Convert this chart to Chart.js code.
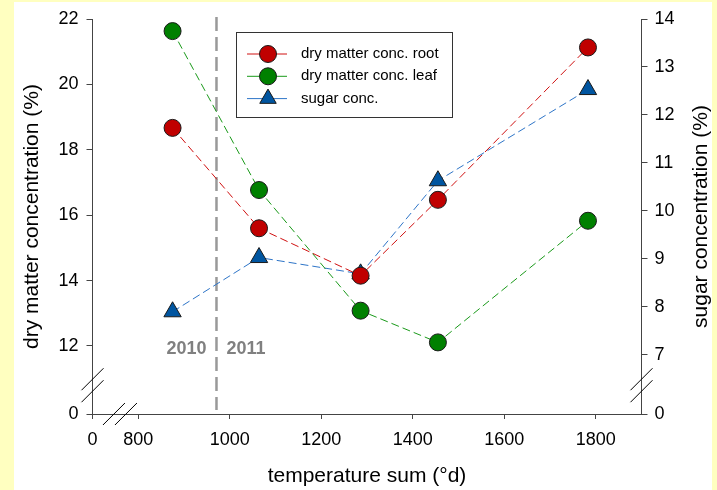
<!DOCTYPE html>
<html>
<head>
<meta charset="utf-8">
<script src="https://cdn.jsdelivr.net/npm/chart.js@4"></script>
<style>
  body { margin: 0; background: #ffffc0; }
</style>
</head>
<body>
<canvas id="chart" width="717" height="490"></canvas>
<script>
const tempSum = [875, 1064, 1286, 1455, 1783];
const rootDM = [18.67, 15.6, 14.15, 16.47, 21.13];
const leafDM = [21.63, 16.77, 13.08, 12.11, 15.83];
const sugar = [7.9, 9.03, 8.69, 10.63, 12.53];

const xTicks = [700, 800, 1000, 1200, 1400, 1600, 1800];
const leftTicks = [9.92, 12, 14, 16, 18, 20, 22];
const rightTicks = [5.77, 7, 8, 9, 10, 11, 12, 13, 14];
const yearSplit = 971;

const FONT = "'Liberation Sans', Arial, sans-serif";
const axisColor = "#444";

function pts(ys) {
  return tempSum.map((x, i) => ({ x: x, y: ys[i] }));
}

function series(label, ys, line, fill, style, axis) {
  return {
    label: label,
    data: pts(ys),
    yAxisID: axis,
    showLine: true,
    borderColor: line,
    borderWidth: 1,
    borderDash: [8, 4],
    pointStyle: style,
    pointRadius: style === "triangle" ? 10 : 8.5,
    pointHoverRadius: style === "triangle" ? 10 : 8.5,
    pointBackgroundColor: fill,
    pointBorderColor: "#1a1a1a",
    pointBorderWidth: 1,
    clip: false,
  };
}

// background, year divider, legend box, axis breaks, right title
const decor = {
  id: "decor",
  beforeDraw(chart) {
    const c = chart.ctx;
    c.save();
    c.fillStyle = "#ffffc0";
    c.fillRect(0, 0, chart.width, chart.height);
    c.fillStyle = "#fff";
    c.fillRect(14, 2, 698, chart.height - 2);
    c.restore();
  },
  beforeDatasetsDraw(chart) {
    const c = chart.ctx;
    const x = chart.scales.x.getPixelForValue(yearSplit);
    const area = chart.chartArea;
    c.save();
    c.strokeStyle = "#999";
    c.lineWidth = 2.5;
    c.setLineDash([14, 6]);
    c.beginPath();
    c.moveTo(x, area.top - 2);
    c.lineTo(x, area.bottom - 4);
    c.stroke();
    c.setLineDash([]);
    c.fillStyle = "#808080";
    c.font = "bold 18px " + FONT;
    c.textBaseline = "middle";
    const ty = chart.scales.y.getPixelForValue(12);
    c.textAlign = "right";
    c.fillText("2010", x - 10, ty + 3);
    c.textAlign = "left";
    c.fillText("2011", x + 10, ty + 3);
    c.restore();
  },
  afterDraw(chart) {
    const c = chart.ctx;
    const area = chart.chartArea;
    c.save();

    // legend
    c.fillStyle = "#fff";
    c.fillRect(236, 32, 217, 86);
    c.strokeStyle = "#333";
    c.lineWidth = 1;
    c.strokeRect(236.5, 32.5, 216, 85);
    chart.data.datasets.forEach((ds, i) => {
      const y = 54 + i * 22.3;
      c.strokeStyle = ds.borderColor;
      c.lineWidth = 1;
      c.beginPath();
      c.moveTo(247, y);
      c.lineTo(287, y);
      c.stroke();
      c.fillStyle = ds.pointBackgroundColor;
      c.strokeStyle = ds.pointBorderColor;
      Chart.helpers.drawPoint(c, {
        pointStyle: ds.pointStyle,
        radius: ds.pointStyle === "triangle" ? 9.5 : 8.5,
        rotation: 0,
        borderWidth: 1,
      }, 268, y);
      c.fillStyle = "#000";
      c.font = "15px " + FONT;
      c.textAlign = "left";
      c.textBaseline = "middle";
      c.fillText(ds.label, 301, y);
    });

    // axis breaks
    c.strokeStyle = "#000";
    c.lineWidth = 1;
    const by = chart.scales.y.getPixelForValue(10.8);
    const bx = chart.scales.x.getPixelForValue(760);
    const slash = (x, y) => {
      c.beginPath();
      c.moveTo(x - 11, y + 11);
      c.lineTo(x + 11, y - 11);
      c.stroke();
    };
    [area.left, area.right].forEach((ax) => {
      slash(ax, by - 6);
      slash(ax, by + 6);
    });
    slash(bx - 6, area.bottom);
    slash(bx + 6, area.bottom);

    // right axis title, reading bottom to top
    c.fillStyle = "#000";
    c.font = "21px " + FONT;
    c.textAlign = "center";
    c.textBaseline = "middle";
    c.translate(701.5, (area.top + area.bottom) / 2);
    c.rotate(-Math.PI / 2);
    c.fillText("sugar concentration (%)", 0, 0);
    c.restore();
  },
};

function axisBase(ticks, min, max) {
  return {
    type: "linear",
    min: min,
    max: max,
    afterBuildTicks: (s) => {
      s.ticks = ticks.map((v) => ({ value: v }));
    },
    border: { display: true, color: axisColor, width: 1 },
    grid: {
      display: true,
      drawOnChartArea: false,
      drawTicks: true,
      tickLength: 6,
      tickColor: axisColor,
    },
  };
}

const xAxis = axisBase(xTicks, 700, 1900);
xAxis.grid.tickLength = 5;
xAxis.ticks = {
  color: "#000",
  font: { family: FONT, size: 18 },
  padding: 10,
  maxRotation: 0,
  autoSkip: false,
  callback: (v) => (v === 700 ? "0" : v),
};
xAxis.title = {
  display: true,
  text: "temperature sum (°d)",
  color: "#000",
  font: { family: FONT, size: 21 },
  padding: { top: 0, bottom: 1 },
};
xAxis.afterFit = (s) => { s.height = 76; };

const yAxis = axisBase(leftTicks, 9.92, 22);
yAxis.position = "left";
yAxis.ticks = {
  color: "#000",
  font: { family: FONT, size: 18 },
  padding: 8,
  autoSkip: false,
  callback: (v) => (v === 9.92 ? "0" : v),
};
yAxis.title = {
  display: true,
  text: "dry matter concentration (%)",
  color: "#000",
  font: { family: FONT, size: 21 },
  padding: { top: 20, bottom: 0 },
};
yAxis.afterFit = (s) => { s.width = 92.5; };

const y1Axis = axisBase(rightTicks, 5.77, 14);
y1Axis.position = "right";
y1Axis.ticks = {
  color: "#000",
  font: { family: FONT, size: 18 },
  padding: 7,
  autoSkip: false,
  callback: (v) => (v === 5.77 ? "0" : v),
};
y1Axis.afterFit = (s) => { s.width = 75.5; };

new Chart(document.getElementById("chart"), {
  type: "scatter",
  data: {
    datasets: [
      series("dry matter conc. root", rootDM, "#d01010", "#c00000", "circle", "y"),
      series("dry matter conc. leaf", leafDM, "#1a9a1a", "#008000", "circle", "y"),
      series("sugar conc.", sugar, "#2e75c8", "#0055a0", "triangle", "y1"),
    ],
  },
  options: {
    responsive: false,
    animation: false,
    devicePixelRatio: 1,
    layout: { padding: { top: 19, left: 0, right: 0, bottom: 0 } },
    plugins: {
      legend: { display: false },
      tooltip: { enabled: false },
    },
    scales: { x: xAxis, y: yAxis, y1: y1Axis },
  },
  plugins: [decor],
});
</script>
</body>
</html>
